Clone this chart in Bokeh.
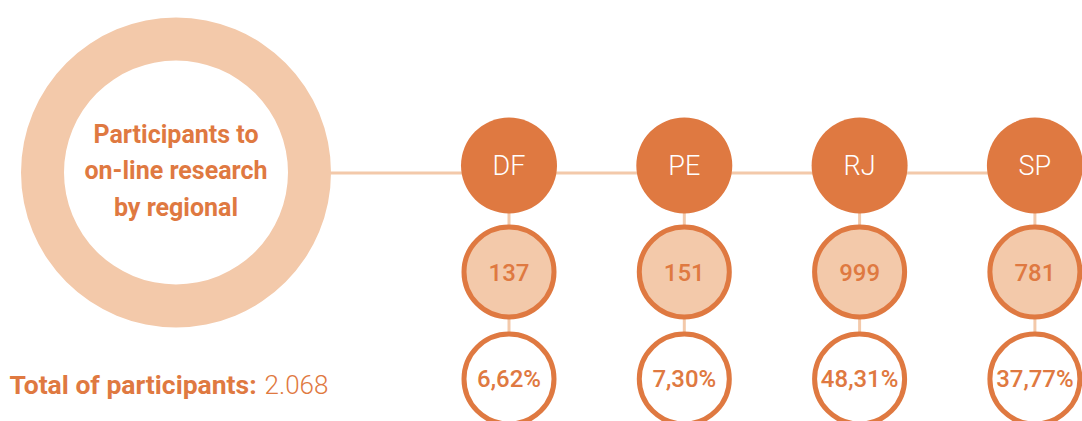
from bokeh.plotting import figure
from bokeh.models import Range1d, ColumnDataSource
from bokeh.core.properties import value
from bokeh.embed import file_html
from bokeh.resources import INLINE

# ---- data ----
regions = ["DF", "PE", "RJ", "SP"]
counts = [137, 151, 999, 781]
percents = ["6,62%", "7,30%", "48,31%", "37,77%"]
title_lines = ["Participants to", "on-line research", "by regional"]
total_label = "Total of participants:"
total_value = "2.068"

DARK = "#DF7941"
LIGHT = "#F3C9AA"

W, H = 1082, 421
p = figure(width=W, height=H, output_backend="svg", toolbar_location=None,
           x_range=Range1d(0, W), y_range=Range1d(H, 0),
           min_border=0, outline_line_color=None)
p.axis.visible = False
p.grid.visible = False
p.background_fill_color = "white"
p.border_fill_color = "white"

# layout
x0, dx = 508.5, 175.3
xs = [x0 + i * dx for i in range(len(regions))]
y_top, y_mid, y_bot = 165, 271.5, 378.5
line_y = 172.5

src = ColumnDataSource(dict(
    x=xs, region=regions,
    count=[str(c) for c in counts],
    pct=percents,
    ytop=[y_top] * len(xs), ymid=[y_mid] * len(xs), ybot=[y_bot] * len(xs),
))

# connector lines
p.segment(x0=330, y0=line_y, x1=1090, y1=line_y, line_color=LIGHT, line_width=3)
p.segment(x0="x", y0="ytop", x1="x", y1="ybot", source=src, line_color=LIGHT, line_width=3)

# big ring
p.annulus(x=175.5, y=172, inner_radius=112, outer_radius=155,
          fill_color=LIGHT, line_color=None)

# circles
p.circle(x="x", y="ytop", radius=48, source=src, fill_color=DARK, line_color=None)
p.circle(x="x", y="ymid", radius=45, source=src, fill_color=LIGHT, line_color=DARK, line_width=5)
p.circle(x="x", y="ybot", radius=45, source=src, fill_color="white", line_color=DARK, line_width=5)

# texts
p.text(x="x", y="ytop", text="region", source=src, text_align="center",
       text_baseline="middle", text_color="white",
       text_font=value("Roboto Light"), text_font_size="27px")
p.text(x="x", y="ymid", text="count", source=src, text_align="center",
       text_baseline="middle", text_color=DARK,
       text_font=value("Roboto Medium"), text_font_size="24px")
p.text(x="x", y="ybot", text="pct", source=src, text_align="center",
       text_baseline="middle", text_color=DARK,
       text_font=value("Roboto Medium"), text_font_size="24px")

p.text(x=[175.5] * 3, y=[134, 170, 207], text=title_lines, text_align="center",
       text_baseline="middle", text_color=DARK, text_font=value("Roboto"),
       text_font_style="bold", text_font_size="25px")

p.text(x=[9], y=[384], text=[total_label], text_align="left", text_baseline="middle",
       text_color=DARK, text_font=value("Roboto"), text_font_style="bold",
       text_font_size="26.5px")
p.text(x=[264], y=[384], text=[total_value], text_align="left", text_baseline="middle",
       text_color=DARK, text_font=value("Roboto Light"), text_font_size="26px")

open("out.html", "w").write(file_html(p, INLINE))
